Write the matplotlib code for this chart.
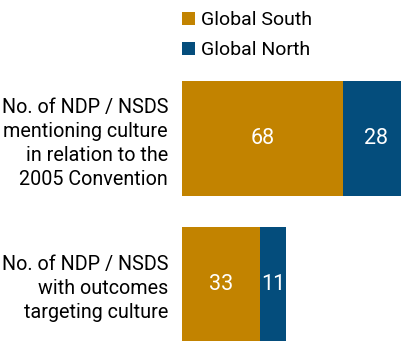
import matplotlib
matplotlib.use('Agg')
import matplotlib.pyplot as plt

plt.rcParams['font.family'] = ['Roboto', 'DejaVu Sans']

# donnees
categories = ['No. of NDP / NSDS\nmentioning culture\nin relation to the\n2005 Convention',
              'No. of NDP / NSDS\nwith outcomes\ntargeting culture']
global_south = [68, 33]
global_north = [28, 11]
series_names = ['Global South', 'Global North']

col_south = '#C28300'
col_north = '#044D7C'
fs = 14.2

fig = plt.figure(figsize=(4.02, 3.42), dpi=100)
ax = fig.add_axes([182 / 402, 0.6 / 342, 220 / 402, 260 / 342])

y = list(range(len(categories)))
b1 = ax.barh(y, global_south, height=0.79, color=col_south, label=series_names[0])
b2 = ax.barh(y, global_north, left=global_south, height=0.79, color=col_north, label=series_names[1])

# valeurs au milieu de chaque segment
for i in y:
    ax.text(global_south[i] / 2, i, str(global_south[i]), color='white', fontsize=15.5,
            ha='center', va='center')
    ax.text(global_south[i] + global_north[i] / 2, i, str(global_north[i]), color='white',
            fontsize=15.5, ha='center', va='center')

ax.set_xlim(0, 92.8)
ax.set_ylim(1.395, -0.395)
ax.set_yticks(y)
ax.set_yticklabels(categories, fontsize=fs, ha='right', linespacing=1.33)
ax.tick_params(axis='y', length=0, pad=10)
ax.set_xticks([])
for s in ax.spines.values():
    s.set_visible(False)

fig.legend(handles=[b1, b2], loc='upper left', bbox_to_anchor=(182 / 402, 1 - 11 / 342),
           frameon=False, fontsize=14, handlelength=0.68, handleheight=0.68,
           handletextpad=0.3, labelspacing=0.62, borderpad=0, borderaxespad=0)

fig.savefig('out.png', dpi=100)
